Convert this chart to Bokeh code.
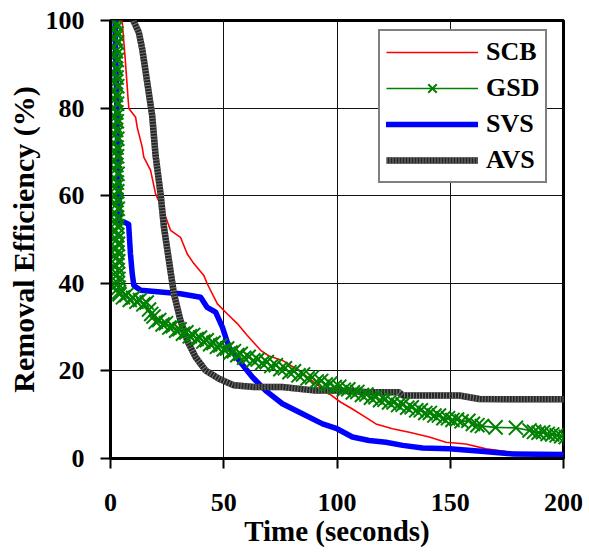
from bokeh.plotting import figure
from bokeh.models import Legend, LegendItem, FixedTicker, Range1d
from bokeh.embed import file_html
from bokeh.resources import INLINE

# ---------------- data ----------------
x_ticks = [0, 50, 100, 150, 200]
y_ticks = [0, 20, 40, 60, 80, 100]

scb_t = [0, 5.0, 5.2, 6.6, 7.6, 8.1, 11.1, 11.8, 14.0, 14.7, 17.7, 19.9, 23.6, 26.5, 30.9,
         33.9, 36.8, 41.2, 42.7, 47.2, 51.6, 56.0, 60.4, 66.3, 70.0, 75.9, 83.2, 90.6, 96.5,
         101.5, 106.8, 112.7, 117.2, 124.5, 131.9, 140.7, 148.1, 156.9, 165.8, 174.6, 185.0, 203.0]
scb_v = [100, 100, 99.6, 90.5, 83.3, 79.9, 77.9, 75.6, 71.1, 68.8, 65.8, 60.4, 56.2, 52.1, 50.5,
         46.7, 44.5, 41.8, 39.9, 35.3, 33.0, 30.8, 28.1, 24.7, 23.4, 22.4, 20.1, 17.1, 14.8,
         12.9, 11.3, 9.4, 7.9, 6.8, 6.0, 4.9, 3.7, 3.3, 2.2, 1.6, 1.0, 1.0]

# GSD: first seconds (dense vertical band), then the long decay
gsd_start_t = [1.5, 2.3, 1.8, 2.6, 2.0, 2.9, 1.7, 2.4, 2.1, 2.8,
               1.6, 2.5, 1.9, 2.7, 2.2, 3.0, 1.8, 2.4, 2.0, 2.9,
               1.7, 2.6, 2.2, 2.8, 1.9, 2.5, 2.1, 3.0, 1.8, 2.7,
               2.3, 2.9, 2.0, 2.6, 2.2, 3.1, 1.9, 2.8, 2.4, 3.0,
               2.1, 2.7, 2.5, 3.2, 2.2, 2.9, 2.6, 3.1, 2.3, 3.0,
               2.7, 3.3, 2.5, 3.1, 2.8, 3.4, 2.6, 3.2, 3.0, 3.5,
               3.2, 3.6, 3.8]
gsd_start_v = [100, 99, 98, 97, 96, 95, 94, 93, 92, 91,
               90, 89, 88, 87, 86, 85, 84, 83, 82, 81,
               80, 79, 78, 77, 76, 75, 74, 73, 72, 71,
               70, 69, 68, 67, 66, 65, 64, 63, 62, 61,
               60, 59, 58, 57, 56, 55, 54, 53, 52, 51,
               50, 49, 48, 47, 46, 45, 44, 43, 42, 41,
               40, 39, 38]
gsd_decay_t = [4, 5.5, 7, 8.5, 10, 11.5, 13, 14.5, 16, 17, 18, 19, 20, 21.5, 23, 24.5, 26, 27.5,
               29, 30.5, 32, 33.5, 35, 36.5, 38, 39.5, 41, 42.5, 44, 45.5, 47, 48.5, 50, 51.5, 53,
               54.5, 56, 57.5, 59, 61, 63, 65, 67, 69, 71, 73, 75, 77, 79, 81, 83, 85, 87, 89, 91,
               93, 95, 97, 99, 101, 103, 105, 107, 109, 111, 113, 115, 117, 119, 121, 123, 125,
               127, 129, 131, 133, 135, 137, 139, 141, 143, 145, 147, 149, 151, 153, 155, 158,
               160, 162, 164, 170, 179, 185, 187, 189, 191, 193, 195, 197, 199, 201, 203]
gsd_decay_v = [37.5, 36.8, 37.3, 36.2, 36.7, 35.8, 36.2, 35.2, 35.6, 34.0, 33.0, 32.4, 31.2,
               31.6, 30.6, 30.9, 29.9, 30.2, 29.2, 29.5, 28.5, 28.8, 27.9, 28.2, 27.3, 27.6,
               26.7, 27.0, 26.1, 26.4, 25.5, 25.8, 24.9, 25.1, 24.2, 24.5, 23.6, 23.9, 23.0,
               23.2, 22.4, 22.6, 21.8, 22.0, 21.1, 21.3, 20.4, 20.6, 19.7, 19.9, 19.0, 19.2,
               18.3, 18.5, 17.6, 17.7, 16.9, 17.1, 16.3, 16.4, 15.7, 15.8, 15.1, 15.2, 14.5,
               14.6, 13.9, 14.0, 13.3, 13.4, 12.8, 12.8, 12.2, 12.3, 11.6, 11.7, 11.0, 11.0,
               10.4, 10.4, 9.8, 9.8, 9.2, 9.2, 8.8, 8.9, 8.5, 8.6, 7.9, 7.6, 7.4, 7.1, 7.0,
               6.4, 6.1, 5.9, 6.0, 5.6, 5.5, 5.3, 5.1, 4.9, 4.7]
gsd_t = gsd_start_t + gsd_decay_t
gsd_v = gsd_start_v + gsd_decay_v

svs_t = [2.0, 3.0, 4.0, 5.9, 8.0, 8.8, 9.6, 10.3, 13.3, 22.1, 30.9, 39.8, 42.7, 46.4, 49.4,
         52.3, 56.7, 62.6, 68.5, 75.9, 84.7, 93.6, 100.0, 106.8, 114.2, 121.6, 129.0, 137.8,
         149.6, 165.0, 178.0, 203.0]
svs_v = [100, 75, 54, 54, 53.5, 46.8, 42.2, 39.5, 38.4, 38.0, 37.6, 36.8, 34.5, 33.4, 30.0,
         25.4, 22.4, 18.6, 15.5, 12.5, 10.2, 7.9, 6.8, 4.9, 4.1, 3.7, 3.0, 2.4,
         2.2, 1.6, 1.0, 0.9]

avs_t = [9.6, 12.5, 14.0, 16.2, 18.4, 19.9, 22.1, 23.6, 25.8, 28.0, 30.9, 33.9, 37.6, 42.0,
         47.9, 54.5, 63.4, 75.9, 90.6, 100.9, 114.2, 127.5, 129.0, 151.0, 154.0, 162.8, 177.6,
         203.0]
avs_v = [100.5, 97.3, 93.5, 85.9, 78.3, 69.2, 60.4, 52.8, 45.2, 37.6, 31.5, 26.9, 23.1, 20.1,
         18.2, 16.7, 16.3, 16.3, 15.5, 15.5, 15.1, 15.1, 14.4, 14.4, 14.4, 13.6, 13.5, 13.5]

# ---------------- figure ----------------
FONT = "Liberation Serif"

p = figure(width=589, height=556, output_backend="svg", toolbar_location=None,
           x_range=Range1d(0, 200), y_range=Range1d(0, 100),
           min_border_left=110, min_border_right=26, min_border_top=20, min_border_bottom=98,
           x_axis_label="Time (seconds)", y_axis_label="Removal Efficiency (%)")
p.background_fill_color = "white"
p.border_fill_color = "white"
p.outline_line_color = "black"
p.outline_line_width = 3

p.xaxis.ticker = FixedTicker(ticks=x_ticks)
p.yaxis.ticker = FixedTicker(ticks=y_ticks)
p.xgrid.ticker = FixedTicker(ticks=x_ticks)
p.ygrid.ticker = FixedTicker(ticks=y_ticks)
p.grid.grid_line_color = "#111111"
p.grid.grid_line_width = 1

for ax in (p.xaxis, p.yaxis):
    ax.axis_line_width = 3
    ax.axis_line_color = "black"
    ax.major_tick_out = 10
    ax.major_tick_in = 0
    ax.major_tick_line_width = 2
    ax.major_tick_line_color = "black"
    ax.minor_tick_line_color = None
    ax.major_label_text_font = FONT
    ax.major_label_text_font_size = "26px"
    ax.major_label_text_font_style = "bold"
    ax.major_label_text_color = "black"
    ax.axis_label_text_font = FONT
    ax.axis_label_text_font_style = "bold"
    ax.axis_label_text_color = "black"

p.xaxis.axis_label_text_font_size = "29px"
p.yaxis.axis_label_text_font_size = "30px"
p.xaxis.major_label_standoff = 25
p.yaxis.major_label_standoff = 16
p.xaxis.axis_label_standoff = 1
p.yaxis.axis_label_standoff = 3

# ---------------- series ----------------
r_scb = p.line(scb_t, scb_v, line_color="#ff0000", line_width=1.6)
r_svs = p.line(svs_t, svs_v, line_color="#0000ff", line_width=5.5,
               line_cap="round", line_join="round")
r_avs1 = p.line(avs_t, avs_v, line_color="#262626", line_width=6.5)
r_avs2 = p.line(avs_t, avs_v, line_color="#7a7a7a", line_width=6.5, line_dash="1 2")
r_gsd_l = p.line(gsd_t, gsd_v, line_color="#008000", line_width=1.6)
r_gsd_m = p.scatter(gsd_t, gsd_v, marker="x", size=20, line_color="#008000", line_width=2)

legend = Legend(items=[
    LegendItem(label="SCB", renderers=[r_scb]),
    LegendItem(label="GSD", renderers=[r_gsd_l, r_gsd_m]),
    LegendItem(label="SVS", renderers=[r_svs]),
    LegendItem(label="AVS", renderers=[r_avs1, r_avs2]),
], location=(268, 275))
legend.label_text_font = FONT
legend.label_text_font_size = "26px"
legend.label_text_font_style = "bold"
legend.label_text_color = "black"
legend.glyph_width = 92
legend.glyph_height = 30
legend.label_standoff = 8
legend.padding = 6
legend.spacing = 6
legend.margin = 0
legend.border_line_color = "black"
legend.border_line_width = 2
legend.background_fill_color = "white"
legend.background_fill_alpha = 1.0
p.add_layout(legend)

open("out.html", "w").write(file_html(p, INLINE))
